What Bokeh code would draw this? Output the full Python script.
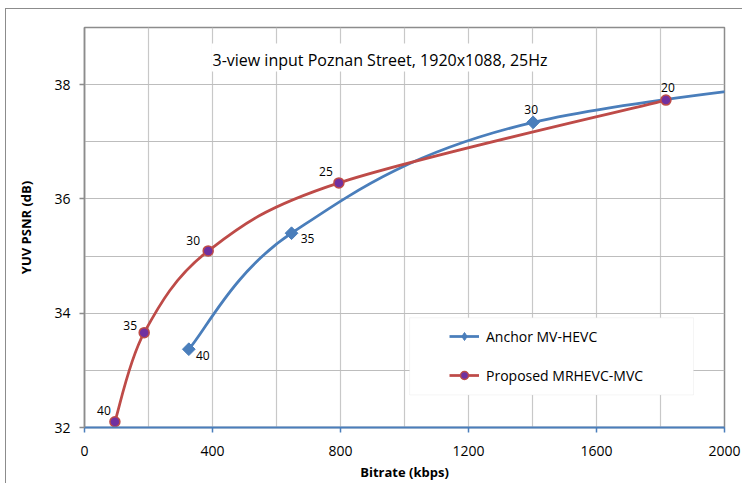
import numpy as np
from bokeh.plotting import figure
from bokeh.models import (Range1d, FixedTicker, Legend, LegendItem,
                          BoxAnnotation, ColumnDataSource)
from bokeh.core.properties import value
from bokeh.embed import file_html
from bokeh.resources import INLINE

# ---------------- data ----------------
title_text = "3-view input Poznan Street, 1920x1088, 25Hz"
x_label = "Bitrate (kbps)"
y_label = "YUV PSNR (dB)"

anchor_name = "Anchor MV-HEVC"
anchor_kbps = [326, 647, 1402, 3000]
anchor_psnr = [33.37, 35.40, 37.34, 38.50]
anchor_qp = ["40", "35", "30", "25"]

proposed_name = "Proposed MRHEVC-MVC"
proposed_kbps = [95, 186.5, 386.5, 795, 1817]
proposed_psnr = [32.10, 33.66, 35.09, 36.28, 37.73]
proposed_qp = ["40", "35", "30", "25", "20"]

x_ticks = [0, 400, 800, 1200, 1600, 2000]
x_minor = [200, 600, 1000, 1400, 1800]
y_ticks = [32, 34, 36, 38]
y_minor = [33, 35, 37, 39]

# ---------------- styles ----------------
FONT = "Open Sans"
BLUE = "#4a7ebb"
RED = "#be4b48"
PURPLE = "#7030a0"
GRID = "#c8c8c8"
AXIS_GRAY = "#8c8c8c"


def smooth(xs, ys):
    """Excel-like smoothed line: cubic Bezier segments (Catmull-Rom tangents)."""
    x = np.asarray(xs, float)
    y = np.asarray(ys, float)
    n = len(x)
    xp = np.concatenate([[x[0]], x, [x[-1]]])
    yp = np.concatenate([[y[0]], y, [y[-1]]])
    return dict(
        x0=x[:-1], y0=y[:-1], x1=x[1:], y1=y[1:],
        cx0=x[:-1] + (xp[2:n + 1] - xp[0:n - 1]) / 6.0,
        cy0=y[:-1] + (yp[2:n + 1] - yp[0:n - 1]) / 6.0,
        cx1=x[1:] - (xp[3:n + 2] - xp[1:n]) / 6.0,
        cy1=y[1:] - (yp[3:n + 2] - yp[1:n]) / 6.0,
    )


p = figure(width=737, height=475, output_backend="svg", toolbar_location=None,
           x_range=Range1d(0, 2000), y_range=Range1d(32, 39),
           min_border_left=78, min_border_right=19, min_border_top=18,
           min_border_bottom=57)
# chart-area border (only its top and left edges fall inside the picture)
p.styles = {"margin-left": "5px", "margin-top": "8px",
            "border-left": "1px solid #8c8c8c", "border-top": "1px solid #8c8c8c"}
p.background_fill_color = "white"
p.border_fill_color = "white"
p.outline_line_color = AXIS_GRAY
p.outline_line_width = 1.5

# axes
p.xaxis.ticker = FixedTicker(ticks=x_ticks, minor_ticks=x_minor)
p.yaxis.ticker = FixedTicker(ticks=y_ticks, minor_ticks=y_minor)
for ax in (p.xaxis, p.yaxis):
    ax.minor_tick_line_color = None
    ax.major_tick_in = 0
    ax.major_tick_out = 5
    ax.major_label_text_font = FONT
    ax.major_label_text_font_size = "14px"
    ax.major_label_text_color = "black"
    ax.axis_label_text_font = FONT
    ax.axis_label_text_font_size = "13px"
    ax.axis_label_text_font_style = "bold"
    ax.axis_label_text_color = "black"
p.xaxis.axis_label = x_label
p.yaxis.axis_label = y_label
p.xaxis.axis_line_color = BLUE
p.xaxis.axis_line_width = 2
p.xaxis.major_tick_line_color = BLUE
p.xaxis.major_tick_line_width = 1.5
p.xaxis.major_label_standoff = 13
p.xaxis.axis_label_standoff = 4
p.yaxis.axis_line_color = AXIS_GRAY
p.yaxis.axis_line_width = 1.5
p.yaxis.major_tick_line_color = AXIS_GRAY
p.yaxis.major_tick_line_width = 1.5
p.yaxis.major_label_standoff = 9
p.yaxis.axis_label_standoff = 16

# grids
p.xgrid.grid_line_color = GRID
p.xgrid.minor_grid_line_color = GRID
p.ygrid.grid_line_color = "#bdbdbd"
p.ygrid.minor_grid_line_color = "#bdbdbd"
p.xgrid.grid_line_width = 1.2
p.xgrid.minor_grid_line_width = 1.2
p.ygrid.grid_line_width = 1.2
p.ygrid.minor_grid_line_width = 1.2

# title inside plot area, on a white box over the grid
p.add_layout(BoxAnnotation(left=397, right=1466, bottom=38.23, top=38.72,
                           fill_color="white", fill_alpha=1.0, line_color=None,
                           level="underlay"))
p.text(x=[400], y=[38.44], text=[title_text], text_align="left",
       text_baseline="middle", text_font=value(FONT), text_font_size="16px",
       text_color="black")

# series
a_line = p.bezier(source=ColumnDataSource(smooth(anchor_kbps, anchor_psnr)),
                  x0="x0", y0="y0", x1="x1", y1="y1",
                  cx0="cx0", cy0="cy0", cx1="cx1", cy1="cy1",
                  line_color=BLUE, line_width=2.75)
r_line = p.bezier(source=ColumnDataSource(smooth(proposed_kbps, proposed_psnr)),
                  x0="x0", y0="y0", x1="x1", y1="y1",
                  cx0="cx0", cy0="cy0", cx1="cx1", cy1="cy1",
                  line_color=RED, line_width=2.75)
a_pts = p.scatter(anchor_kbps, anchor_psnr, marker="square", angle=np.pi / 4,
                  size=9, fill_color=BLUE, line_color=BLUE, line_width=1)
# hidden twin used only for the legend swatch (diamond shape)
a_key = p.scatter(anchor_kbps, anchor_psnr, marker="diamond", size=12,
                  fill_color=BLUE, line_color=BLUE, line_width=1, visible=False)
r_pts = p.scatter(proposed_kbps, proposed_psnr, marker="circle", size=10,
                  fill_color=PURPLE, line_color=RED, line_width=1.5)

# QP data labels
p.text(anchor_kbps, anchor_psnr, text=anchor_qp,
       x_offset=[14, 16, -2, 0], y_offset=[6, 5, -13, -13],
       text_align="center", text_baseline="middle",
       text_font=value(FONT), text_font_size="12px", text_color="black")
p.text(proposed_kbps, proposed_psnr, text=proposed_qp,
       x_offset=[-11, -14, -15, -13, 2], y_offset=[-11, -7, -10, -11, -13],
       text_align="center", text_baseline="middle",
       text_font=value(FONT), text_font_size="12px", text_color="black")

# legend
p.add_layout(BoxAnnotation(left=1016, right=1903, bottom=32.57, top=33.92,
                           fill_color="white", fill_alpha=1.0,
                           line_color="#d9d9d9", line_width=1))
legend = Legend(items=[LegendItem(label=anchor_name, renderers=[a_line, a_key]),
                       LegendItem(label=proposed_name, renderers=[r_line, r_pts])],
                location=(365, 42), padding=0, margin=0, spacing=19,
                glyph_width=30, glyph_height=20, label_height=20,
                label_standoff=7, background_fill_alpha=0,
                border_line_color=None, inactive_fill_alpha=0,
                label_text_font=FONT, label_text_font_size="14px",
                label_text_color="black")
p.add_layout(legend)

open("out.html", "w").write(file_html(p, INLINE))
